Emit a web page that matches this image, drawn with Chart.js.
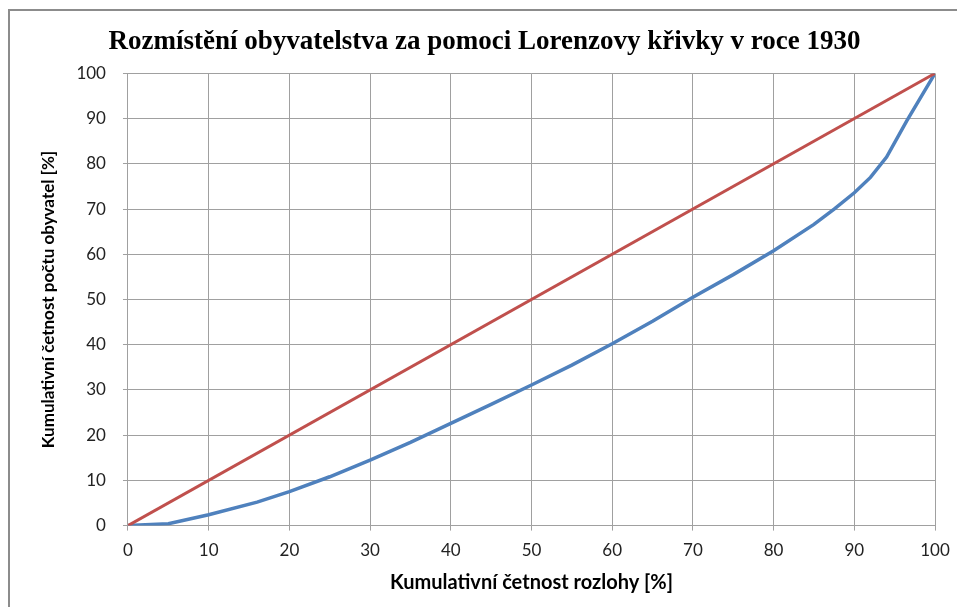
<!DOCTYPE html>
<html>
<head>
<meta charset="utf-8">
<script src="https://cdn.jsdelivr.net/npm/chart.js@4.4.1/dist/chart.umd.min.js"></script>
<style>
  html, body { margin: 0; padding: 0; background: #fff; }
  #wrap { position: relative; width: 966px; height: 607px; }
</style>
</head>
<body>
<div id="wrap"><canvas id="chart1" width="966" height="607"></canvas></div>
<script>
// Lorenzova křivka 1930
var rozloha = [0, 5, 10, 16, 20, 25, 30, 35, 40, 45, 50, 55, 60, 65, 70, 75, 80, 85, 87.5, 90, 92, 94, 96.5, 100];
var obyvatel = [0, 0.4, 2.4, 5.2, 7.5, 10.8, 14.5, 18.4, 22.6, 26.8, 31.1, 35.5, 40.2, 45.2, 50.5, 55.5, 60.8, 66.6, 70, 73.6, 77, 81.5, 89.5, 100];
var rovnostX = [0, 100];
var rovnostY = [0, 100];

function body(xs, ys) {
    var out = [];
    for (var i = 0; i < xs.length; i++) out.push({ x: xs[i], y: ys[i] });
    return out;
}

// ramecek grafu (jen horni a leva hrana)
var ramecek = {
    id: 'ramecek',
    beforeDraw: function (chart) {
        var c = chart.ctx;
        c.save();
        c.strokeStyle = '#8c8c8c';
        c.lineWidth = 2;
        c.beginPath();
        c.moveTo(9, 607);
        c.lineTo(9, 10);
        c.lineTo(957, 10);
        c.stroke();
        c.restore();
    }
};

var chart1 = document.getElementById('chart1').getContext('2d');
var myChart1 = new Chart(chart1, {
    type: 'line',
    data: {
        datasets: [{
            label: 'Rovnoměrné rozložení',
            data: body(rovnostX, rovnostY),
            borderColor: '#C0504D',
            borderWidth: 3,
            pointRadius: 0,
            tension: 0
        }, {
            label: 'Lorenzova křivka',
            data: body(rozloha, obyvatel),
            borderColor: '#4F81BD',
            borderWidth: 3.5,
            pointRadius: 0,
            tension: 0
        }]
    },
    options: {
        responsive: false,
        animation: false,
        layout: { padding: { left: 34, right: 31, top: 14, bottom: 8 } },
        plugins: {
            legend: { display: false },
            tooltip: { enabled: false },
            title: {
                display: true,
                text: 'Rozmístění obyvatelstva za pomoci Lorenzovy křivky v roce 1930',
                color: '#000',
                font: { family: 'Liberation Serif', size: 27, weight: 'bold' },
                padding: { top: 12, bottom: 15 }
            }
        },
        scales: {
            x: {
                type: 'linear',
                min: 0,
                max: 100,
                ticks: { stepSize: 10, color: '#222', font: { family: 'Lato', size: 17 }, padding: 10 },
                grid: { color: '#a0a0a0', tickLength: 5 },
                border: { color: '#a0a0a0' },
                title: {
                    display: true,
                    text: 'Kumulativní četnost rozlohy [%]',
                    color: '#000',
                    font: { family: 'Lato', size: 20, weight: 'bold' },
                    padding: { top: 0 }
                }
            },
            y: {
                min: 0,
                max: 100,
                ticks: { stepSize: 10, color: '#222', font: { family: 'Lato', size: 17 }, padding: 17 },
                grid: { color: '#a0a0a0', tickLength: 5 },
                border: { color: '#a0a0a0' },
                title: {
                    display: true,
                    text: 'Kumulativní četnost počtu obyvatel [%]',
                    color: '#000',
                    font: { family: 'Lato', size: 17, weight: 'bold' },
                    padding: { bottom: 1 }
                }
            }
        }
    },
    plugins: [ramecek]
});
</script>
</body>
</html>
